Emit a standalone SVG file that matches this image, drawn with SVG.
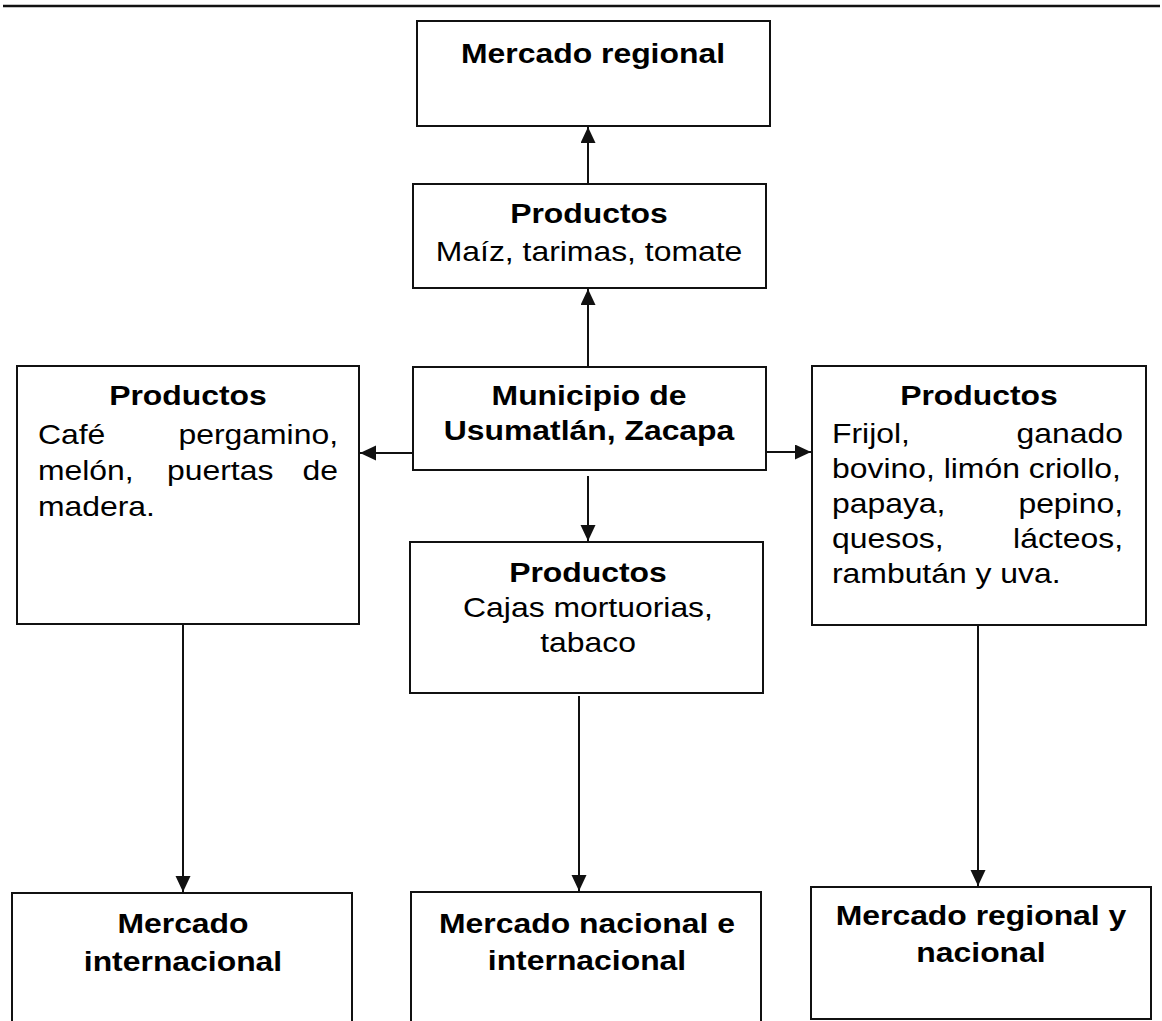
<svg xmlns="http://www.w3.org/2000/svg" width="1162" height="1021" viewBox="0 0 1162 1021">
<style>
.box{fill:#fff;stroke:#111;stroke-width:2}
.t{font-family:"Liberation Sans",Arial,sans-serif;font-size:27.5px;fill:#000}
.b{font-weight:bold}
.c{text-anchor:middle}
.e{text-anchor:end}
.ln{stroke:#111;stroke-width:2;fill:none}
</style>
<defs>
<marker id="ah" markerUnits="userSpaceOnUse" markerWidth="17" markerHeight="16" refX="16" refY="7.5" orient="auto">
<path d="M0,0 L16,7.5 L0,15 z" fill="#111"/>
</marker>
</defs>
<rect width="1162" height="1021" fill="#fff"/>
<line x1="3" y1="6" x2="1160" y2="6" stroke="#111" stroke-width="2.5"/>

<g id="connectors">
<line class="ln" x1="588" y1="184" x2="588" y2="127" marker-end="url(#ah)"/>
<line class="ln" x1="588" y1="367" x2="588" y2="289" marker-end="url(#ah)"/>
<line class="ln" x1="413" y1="453" x2="360" y2="453" marker-end="url(#ah)"/>
<line class="ln" x1="766" y1="452" x2="811" y2="452" marker-end="url(#ah)"/>
<line class="ln" x1="588" y1="476" x2="588" y2="541" marker-end="url(#ah)"/>
<line class="ln" x1="183" y1="624" x2="183" y2="892" marker-end="url(#ah)"/>
<line class="ln" x1="579" y1="696" x2="579" y2="891" marker-end="url(#ah)"/>
<line class="ln" x1="978" y1="625" x2="978" y2="886" marker-end="url(#ah)"/>
</g>

<g id="mercado-regional">
<rect class="box" x="417" y="21" width="353" height="105"/>
<text class="t b c" transform="matrix(1.16 0 0 1 593 63)">Mercado regional</text>
</g>

<g id="productos-top">
<rect class="box" x="413" y="184" width="353" height="104"/>
<text class="t b c" transform="matrix(1.16 0 0 1 589 223)">Productos</text>
<text class="t c" transform="matrix(1.16 0 0 1 589 261)">Maíz, tarimas, tomate</text>
</g>

<g id="municipio">
<rect class="box" x="413" y="367" width="353" height="103"/>
<text class="t b c" transform="matrix(1.16 0 0 1 589 405)">Municipio de</text>
<text class="t b c" transform="matrix(1.16 0 0 1 589 440)">Usumatlán, Zacapa</text>
</g>

<g id="productos-left">
<rect class="box" x="17" y="366" width="342" height="258"/>
<text class="t b c" transform="matrix(1.16 0 0 1 188 405)">Productos</text>
<text class="t" transform="matrix(1.16 0 0 1 38 444)">Café</text>
<text class="t e" transform="matrix(1.16 0 0 1 338 444)">pergamino,</text>
<text class="t" transform="matrix(1.16 0 0 1 38 480)">melón,</text>
<text class="t" transform="matrix(1.16 0 0 1 167 480)">puertas</text>
<text class="t e" transform="matrix(1.16 0 0 1 338 480)">de</text>
<text class="t" transform="matrix(1.16 0 0 1 38 516)">madera.</text>
</g>

<g id="productos-right">
<rect class="box" x="812" y="366" width="334" height="259"/>
<text class="t b c" transform="matrix(1.16 0 0 1 979 405)">Productos</text>
<text class="t" transform="matrix(1.16 0 0 1 832 443)">Frijol,</text>
<text class="t e" transform="matrix(1.16 0 0 1 1123 443)">ganado</text>
<text class="t" transform="matrix(1.16 0 0 1 832 478)">bovino, limón criollo,</text>
<text class="t" transform="matrix(1.16 0 0 1 832 513)">papaya,</text>
<text class="t e" transform="matrix(1.16 0 0 1 1123 513)">pepino,</text>
<text class="t" transform="matrix(1.16 0 0 1 832 548)">quesos,</text>
<text class="t e" transform="matrix(1.16 0 0 1 1123 548)">lácteos,</text>
<text class="t" transform="matrix(1.16 0 0 1 832 583)">rambután y uva.</text>
</g>

<g id="productos-center">
<rect class="box" x="410" y="542" width="353" height="151"/>
<text class="t b c" transform="matrix(1.16 0 0 1 588 582)">Productos</text>
<text class="t c" transform="matrix(1.16 0 0 1 588 617)">Cajas mortuorias,</text>
<text class="t c" transform="matrix(1.16 0 0 1 588 652)">tabaco</text>
</g>

<g id="mercado-internacional">
<rect class="box" x="12" y="893" width="340" height="140"/>
<text class="t b c" transform="matrix(1.16 0 0 1 183 933)">Mercado</text>
<text class="t b c" transform="matrix(1.16 0 0 1 183 971)">internacional</text>
</g>

<g id="mercado-nacional-internacional">
<rect class="box" x="411" y="892" width="350" height="140"/>
<text class="t b c" transform="matrix(1.16 0 0 1 587 933)">Mercado nacional e</text>
<text class="t b c" transform="matrix(1.16 0 0 1 587 970)">internacional</text>
</g>

<g id="mercado-regional-nacional">
<rect class="box" x="811" y="887" width="340" height="132"/>
<text class="t b c" transform="matrix(1.16 0 0 1 981 925)">Mercado regional y</text>
<text class="t b c" transform="matrix(1.16 0 0 1 981 962)">nacional</text>
</g>
</svg>
